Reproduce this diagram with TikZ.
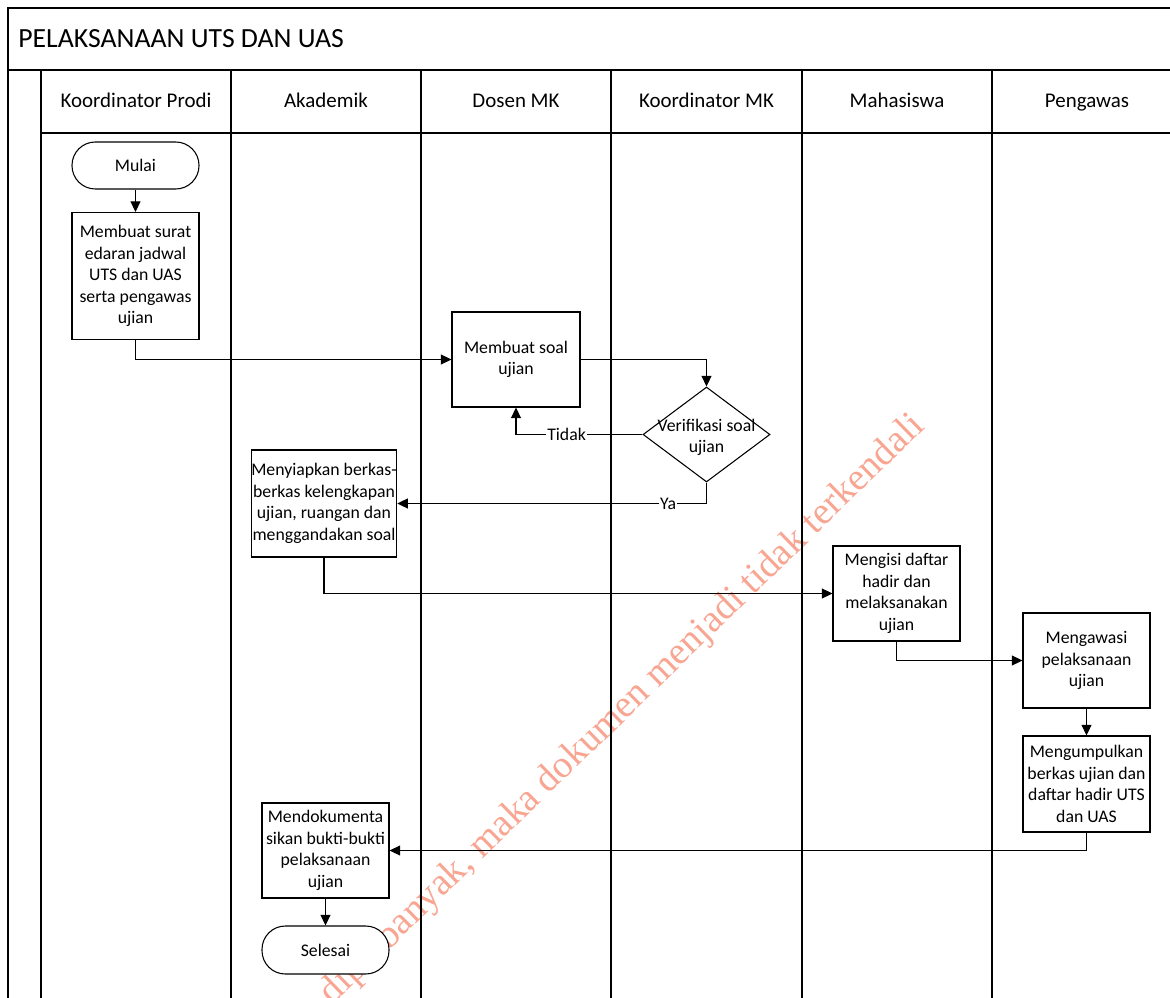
\documentclass[tikz,border=0pt]{standalone}
\usepackage{fontspec}
\setmainfont{Carlito}
\newfontfamily\wmfont{Liberation Serif}
\usetikzlibrary{arrows.meta,shapes.geometric}
\definecolor{wmred}{RGB}{248,165,145}
\begin{document}
\begin{tikzpicture}[x=0.75pt,y=-0.75pt,
  lane/.style={line width=1.3pt,black},
  box/.style={draw,line width=0.8pt,fill=white,align=center,inner sep=0pt,
    font=\fontsize{13.3}{16.1}\selectfont},
  term/.style={box,rounded corners=17.5pt},
  txt/.style={align=center,inner sep=0pt,font=\fontsize{13.3}{16.1}\selectfont},
  lbl/.style={fill=white,inner sep=1pt,font=\fontsize{13.3}{16.1}\selectfont},
  hdr/.style={anchor=base,inner sep=0pt,font=\fontsize{15.7}{19}\selectfont},
  arr/.style={line width=0.8pt,-{Triangle[length=8pt,width=7.5pt]}}]
\useasboundingbox (0,0) rectangle (1170,998);
\clip (0,0) rectangle (1170,998);
\fill[white] (0,0) rectangle (1170,998);
% watermark
\node[rotate=44.2,anchor=base east,text=wmred,inner sep=0pt,
  font=\wmfont\fontsize{28.8}{30}\selectfont] (wm) at (926,428)
  {diperbanyak, maka dokumen menjadi tidak terkendali};
% frame and lanes
\draw[lane] (8,1010) -- (8,8) -- (1180,8);
\draw[lane] (8,70) -- (1180,70);
\draw[lane] (41,133) -- (1180,133);
\foreach \x in {41,231,421,611,802,992} \draw[lane] (\x,70) -- (\x,1010);
\node[anchor=west,inner sep=0pt,font=\fontsize{20.8}{24}\selectfont] (title) at (18,39) {PELAKSANAAN UTS DAN UAS};
\node[hdr] (h1) at (136,108) {Koordinator Prodi};
\node[hdr] (h2) at (326,108) {Akademik};
\node[hdr] (h3) at (516,108) {Dosen MK};
\node[hdr] (h4) at (706.5,108) {Koordinator MK};
\node[hdr] (h5) at (897,108) {Mahasiswa};
\node[hdr] (h6) at (1087,108) {Pengawas};
% nodes
\node[term,minimum width=95.25pt,minimum height=35.25pt] (mulai) at (135.5,165.5) {Mulai};
\node[box,minimum width=95.25pt,minimum height=95.25pt] (b1) at (135.5,276)
  {Membuat surat\\edaran jadwal\\UTS dan UAS\\serta pengawas\\ujian};
\node[box,minimum width=96pt,minimum height=71.25pt] (b2) at (516,359.5)
  {Membuat soal\\ujian};
\node[draw,diamond,fill=white,line width=0.8pt,minimum width=95.25pt,minimum height=71.25pt,inner sep=0pt] (dia) at (706.5,434.5) {};
\node[txt] (diat) at (706.5,437.5) {Verifikasi soal\\ujian};
\node[box,minimum width=105pt,minimum height=80.25pt] (b3) at (324,503.5)
  {Menyiapkan berkas-\\berkas kelengkapan\\ujian, ruangan dan\\menggandakan soal};
\node[box,minimum width=95.25pt,minimum height=71.25pt] (b4) at (896.5,593.5)
  {Mengisi daftar\\hadir dan\\melaksanakan\\ujian};
\node[box,minimum width=95.25pt,minimum height=71.25pt] (b5) at (1086.5,660.5)
  {Mengawasi\\pelaksanaan\\ujian};
\node[box,minimum width=95.25pt,minimum height=72pt] (b6) at (1086.5,784)
  {Mengumpulkan\\berkas ujian dan\\daftar hadir UTS\\dan UAS};
\node[box,minimum width=95.25pt,minimum height=71.25pt] (b7) at (325.5,850.5)
  {Mendokumenta\\sikan bukti-bukti\\pelaksanaan\\ujian};
\node[term,minimum width=95.25pt,minimum height=36pt] (sel) at (325.5,950) {Selesai};
% connectors
\draw[arr] (mulai) -- (b1);
\draw[arr] (b1.south) |- (b2.west);
\draw[arr] (b2.east) -| (dia.north);
\draw[arr] (dia.west) -| node[lbl,pos=0.3] {Tidak} (b2.south);
\draw[arr] (dia.south) |- node[lbl,pos=0.562] {Ya} (b3.east);
\draw[arr] (b3.south) |- (b4.west);
\draw[arr] (b4.south) |- (b5.west);
\draw[arr] (b5) -- (b6);
\draw[arr] (b6.south) |- (b7.east);
\draw[arr] (b7) -- (sel);
\end{tikzpicture}
\end{document}
